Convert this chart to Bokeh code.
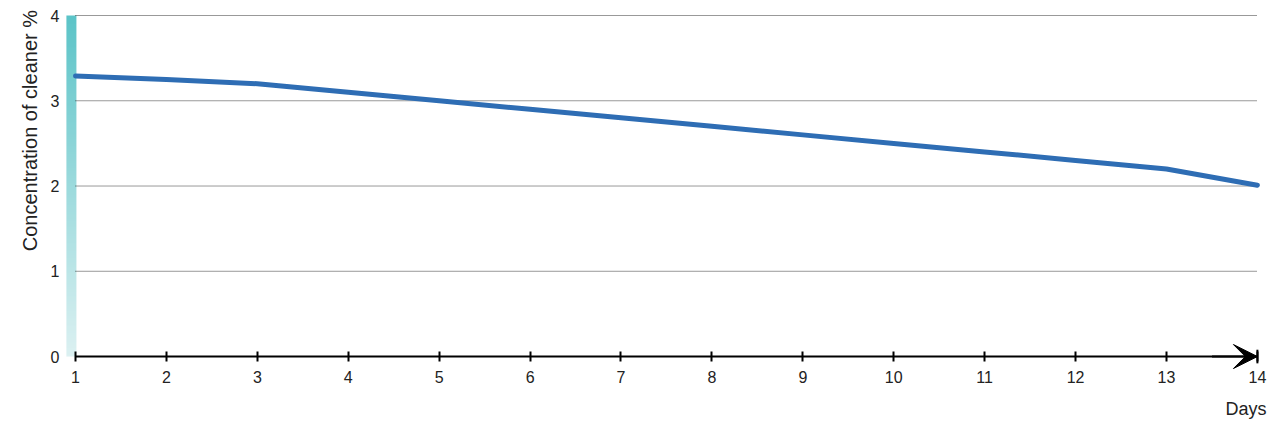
import numpy as np
from bokeh.plotting import figure
from bokeh.models import Range1d, FixedTicker, Arrow, VeeHead, Label
from bokeh.embed import file_html
from bokeh.resources import INLINE

days = [1, 2, 3, 4, 5, 6, 7, 8, 9, 10, 11, 12, 13, 14]
concentration = [3.29, 3.25, 3.20, 3.10, 3.00, 2.90, 2.80, 2.70, 2.60, 2.50, 2.40, 2.30, 2.20, 2.01]
y_ticks = [0, 1, 2, 3, 4]
x_label = "Days"
y_label = "Concentration of cleaner %"

FONT = "Liberation Sans"
TXT = "#222222"

p = figure(width=1276, height=421, output_backend="svg", toolbar_location=None,
           x_range=Range1d(0.175, 14.21), y_range=Range1d(-0.762, 4.176),
           min_border=0)
p.outline_line_color = None
p.background_fill_color = "white"
p.border_fill_color = "white"
p.xgrid.visible = False
p.ygrid.visible = False

# gradient bar on the left (teal at top, pale at bottom)
n = 200
top = np.array([0x5c, 0xc4, 0xc8], dtype=float)
bot = np.array([0xdc, 0xf1, 0xf2], dtype=float)
img = np.zeros((n, 1), dtype=np.uint32)
view = img.view(dtype=np.uint8).reshape((n, 1, 4))
for i in range(n):
    t = i / (n - 1)
    c = bot + (top - bot) * t
    view[i, 0, 0] = int(c[0]); view[i, 0, 1] = int(c[1]); view[i, 0, 2] = int(c[2]); view[i, 0, 3] = 255
p.image_rgba(image=[img], x=days[0] - 0.10, y=y_ticks[0], dw=0.11, dh=y_ticks[-1] - y_ticks[0])

# dotted grid lines
gy = y_ticks[1:]
p.segment(x0=[days[0]] * len(gy), x1=[days[-1]] * len(gy), y0=gy, y1=gy,
          line_color="#333333", line_width=1, line_dash="1 1")

# data line
p.line(days, concentration, line_color="#2e6db4", line_width=5, line_join="round", line_cap="round")

# x axis at y = 0
xa = p.xaxis[0]
xa.fixed_location = 0
xa.ticker = FixedTicker(ticks=days)
xa.bounds = (days[0], days[-1])
xa.axis_line_color = "black"
xa.axis_line_width = 2
xa.major_tick_line_color = "black"
xa.major_tick_line_width = 2
xa.major_tick_in = 5
xa.major_tick_out = 5
xa.minor_tick_line_color = None
xa.major_label_text_font = FONT
xa.major_label_text_font_size = "16px"
xa.major_label_text_color = TXT
xa.major_label_standoff = 9

# y axis just left of the bar
ya = p.yaxis[0]
ya.fixed_location = days[0] - 0.10
ya.ticker = FixedTicker(ticks=y_ticks)
ya.axis_line_color = None
ya.major_tick_line_color = None
ya.major_tick_in = 0
ya.major_tick_out = 0
ya.minor_tick_line_color = None
ya.major_label_text_font = FONT
ya.major_label_text_font_size = "16px"
ya.major_label_text_color = TXT
ya.major_label_standoff = 7

# arrow at end of x axis
p.add_layout(Arrow(end=VeeHead(size=24, fill_color="black", line_color="black"),
                   x_start=days[-2] + 0.5, y_start=0, x_end=days[-1], y_end=0,
                   line_color="black", line_width=2))
p.segment(x0=[days[-1]], x1=[days[-1]], y0=[-0.08], y1=[0.08], line_color="black", line_width=2)

p.add_layout(Label(x=days[-1] + 0.1, y=-0.61, text=x_label, text_align="right", text_baseline="middle",
                   text_font=FONT, text_font_size="18px", text_color=TXT))
p.add_layout(Label(x=0.494, y=2.65, text=y_label, angle=np.pi / 2, text_align="center",
                   text_baseline="middle", text_font=FONT, text_font_size="20px", text_color=TXT))

open("out.html", "w").write(file_html(p, INLINE))
